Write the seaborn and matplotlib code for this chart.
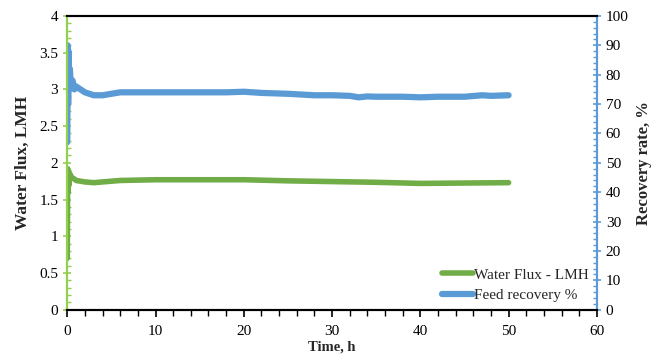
import numpy as np
import pandas as pd
import matplotlib
matplotlib.use("Agg")
import matplotlib.pyplot as plt
import seaborn as sns
from matplotlib.ticker import MultipleLocator

# Water flux (left axis, LMH)
flux_time = [0, 0.05, 0.1, 0.15, 0.2, 0.3, 0.5, 0.8, 1.0, 1.5, 2, 3, 4, 5, 6,
             8, 10, 15, 20, 25, 30, 35, 40, 45, 50]
flux_lmh = [0.70, 1.92, 1.60, 1.88, 1.70, 1.85, 1.80, 1.78, 1.76, 1.75, 1.74,
            1.73, 1.74, 1.75, 1.76, 1.765, 1.77, 1.77, 1.77, 1.755, 1.745,
            1.735, 1.72, 1.725, 1.73]

# Feed recovery (right axis, %)
rec_time = [0, 0.05, 0.1, 0.15, 0.2, 0.3, 0.4, 0.6, 0.8, 1.0, 1.5, 2, 2.5, 3,
            4, 5, 6, 8, 10, 12, 15, 18, 20, 22, 25, 28, 30, 32, 33, 34, 35,
            38, 40, 42, 45, 47, 48, 50]
rec_pct = [57, 90, 70, 88, 75, 82, 76, 78, 75, 76, 75, 74, 73.5, 73, 73,
           73.5, 74, 74, 74, 74, 74, 74, 74.2, 73.8, 73.5, 73, 73, 72.8,
           72.3, 72.6, 72.5, 72.5, 72.3, 72.5, 72.5, 73, 72.8, 73]

flux_df = pd.DataFrame({"Time": flux_time, "Flux": flux_lmh})
rec_df = pd.DataFrame({"Time": rec_time, "Recovery": rec_pct})

sns.set_style("white")
plt.rcParams['font.family'] = ['Liberation Serif', 'DejaVu Serif']
plt.rcParams['font.size'] = 11

green = '#70ad47'
green_axis = '#92d050'
blue = '#5b9bd5'

fig, ax = plt.subplots(figsize=(6.53, 3.54), dpi=100)
ax2 = ax.twinx()

sns.lineplot(data=flux_df, x="Time", y="Flux", ax=ax, color=green,
             linewidth=4, label="Water Flux - LMH", legend=False)
sns.lineplot(data=rec_df, x="Time", y="Recovery", ax=ax2, color=blue,
             linewidth=4.5, label="Feed recovery %", legend=False)

ax.set_xlim(0, 60)
ax.set_ylim(0, 4)
ax2.set_ylim(0, 100)
ax.xaxis.set_major_locator(MultipleLocator(10))
ax.xaxis.set_minor_locator(MultipleLocator(2))
ax.yaxis.set_major_locator(MultipleLocator(0.5))
ax.yaxis.set_minor_locator(MultipleLocator(0.1))
ax2.yaxis.set_major_locator(MultipleLocator(10))
ax2.yaxis.set_minor_locator(MultipleLocator(2))

for a in (ax, ax2):
    for s in a.spines.values():
        s.set_linewidth(1.5)
    a.spines['top'].set_color('black')
    a.spines['bottom'].set_color('black')
ax.spines['left'].set_color(green_axis)
ax2.spines['left'].set_color(green_axis)
ax.spines['right'].set_color(blue)
ax2.spines['right'].set_color(blue)

ax.tick_params(axis='x', which='major', direction='out', length=5, width=1.2,
               colors='black', bottom=True, pad=6)
ax.tick_params(axis='x', which='minor', direction='out', length=4, width=1,
               colors='black', bottom=True)
ax.tick_params(axis='y', which='major', direction='inout', length=6, width=1.2,
               color=green_axis, labelcolor='black', left=True)
ax.tick_params(axis='y', which='minor', direction='in', length=3, width=1,
               color=green_axis, left=True)
ax2.tick_params(axis='y', which='major', direction='inout', length=6, width=1.2,
                color=blue, labelcolor='black', right=True)
ax2.tick_params(axis='y', which='minor', direction='in', length=3, width=1,
                color=blue, right=True)
ax.set_yticks([0, 0.5, 1, 1.5, 2, 2.5, 3, 3.5, 4])
ax.set_yticklabels(['0', '0.5', '1', '1.5', '2', '2.5', '3', '3.5', '4'])

ax.set_xlabel('Time, h', fontweight='bold', fontsize=10.5, labelpad=2)
ax.set_ylabel('Water Flux, LMH', fontweight='bold', fontsize=12.5,
              labelpad=6)
ax2.set_ylabel('Recovery rate, %', fontweight='bold', fontsize=12,
               labelpad=5)

h1, l1 = ax.get_legend_handles_labels()
h2, l2 = ax2.get_legend_handles_labels()
ax2.legend(h1 + h2, l1 + l2, loc='lower right', frameon=False,
           fontsize=11, handlelength=2.0, handletextpad=0.1,
           labelspacing=0.45, borderaxespad=0.1)

fig.subplots_adjust(left=0.103, right=0.914, top=0.955, bottom=0.125)
fig.savefig('out.png', dpi=100)
